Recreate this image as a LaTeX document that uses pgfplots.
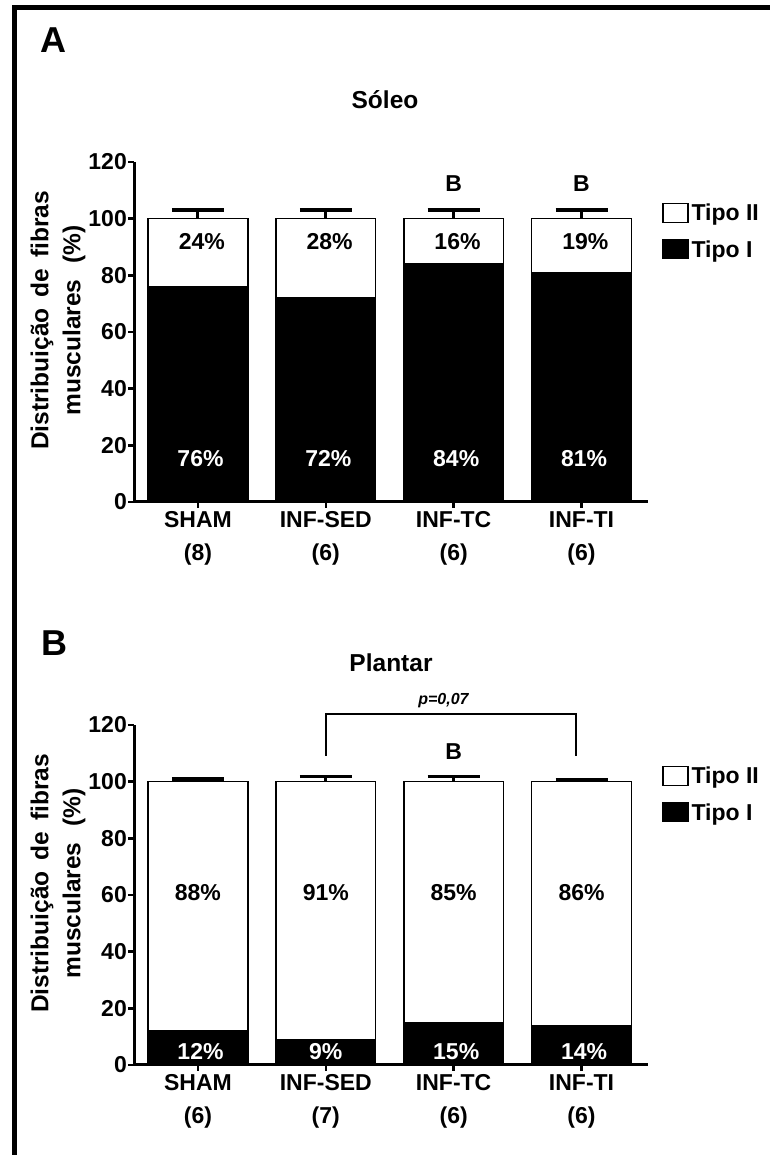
\documentclass[border=0pt]{standalone}
\usepackage{pgfplots}
\pgfplotsset{compat=1.18}
\usepackage{fontspec}
\setmainfont{Liberation Sans}

\newcommand\fs{\bfseries\fontsize{23}{33}\selectfont}
\newcommand\fl{\bfseries\fontsize{24.5}{32}\selectfont}
\newcommand\gap{\hspace{11pt}}

\tikzset{
  tipoI/.style={fill=black, draw=black, line width=1.5pt},
  tipoII/.style={fill=white, draw=black, line width=1.5pt},
  pct/.style={font=\fs, anchor=base},
}

\pgfplotsset{
  fibras/.style={
    scale only axis,
    width=514pt, height=340pt,
    ybar stacked,
    bar width=0.78,
    xmin=-0.5, xmax=3.52,
    ymin=0, ymax=120,
    enlargelimits=false,
    axis lines=left,
    axis line style={-, line width=3pt},
    tick align=outside,
    major tick length=6pt,
    tick style={line width=2.5pt, black},
    xtick={0,1,2,3},
    ytick={0,20,...,120},
    /pgf/number format/assume math mode=true,
    yticklabel style={font=\fs, inner sep=1pt},
    xticklabel style={font=\fs, align=center, inner sep=3pt},
    ylabel={Distribuição\gap de\gap fibras\\musculares\hspace{16pt}(\%)},
    ylabel style={font=\fl, align=center, at={(axis description cs:-0.148,0.534)}, anchor=center},
    reverse legend,
    legend style={at={(1.027,0.885)}, anchor=north west, draw=none, fill=none,
      font=\fs, row sep=12pt, inner sep=0pt, nodes={inner sep=3pt}},
    legend cell align=left,
    legend image code/.code={\draw[#1, line width=1.5pt] (0pt,-9pt) rectangle (25pt,10pt);},
    error bars/error bar style={line width=3pt, black},
    error bars/error mark options={rotate=90, mark size=26pt, line width=3.5pt, black},
    clip=false,
  },
}

\begin{document}
\begin{tikzpicture}
\useasboundingbox (0,0) rectangle (770pt,1155pt);
% frame
\draw[line width=5pt] (14.5pt,0pt) -- (14.5pt,1147pt) -- (770pt,1147pt);

% panel letters and titles
\node[font=\bfseries\fontsize{36}{40}\selectfont] at (53pt,1115pt) {A};
\node[font=\bfseries\fontsize{24.5}{28}\selectfont] at (385pt,1055pt) {Sóleo};
\node[font=\bfseries\fontsize{36}{40}\selectfont] at (54pt,512pt) {B};
\node[font=\bfseries\fontsize{24.5}{28}\selectfont] at (391pt,492pt) {Plantar};

% Soleus
\begin{axis}[fibras, at={(134pt,653pt)}, anchor=south west,
  xticklabels={{SHAM\\(8)},{INF-SED\\(6)},{INF-TC\\(6)},{INF-TI\\(6)}}]
\addplot[tipoI, forget plot] coordinates {(0,76) (1,72) (2,84) (3,81)};
\addplot[tipoII, forget plot, error bars/.cd, y dir=plus, y explicit]
  coordinates {(0,24) +- (0,3) (1,28) +- (0,3) (2,16) +- (0,3) (3,19) +- (0,3)};
\addlegendimage{tipoI}\addlegendentry{Tipo I}
\addlegendimage{tipoII}\addlegendentry{Tipo II}
\coordinate (sII0) at (axis cs:0.03,89);
\coordinate (sII1) at (axis cs:1.03,89);
\coordinate (sII2) at (axis cs:2.03,89);
\coordinate (sII3) at (axis cs:3.03,89);
\coordinate (sI0) at (axis cs:0.02,12.6);
\coordinate (sI1) at (axis cs:1.02,12.6);
\coordinate (sI2) at (axis cs:2.02,12.6);
\coordinate (sI3) at (axis cs:3.02,12.6);
\node[font=\fs] at (axis cs:2,112.3) {B};
\node[font=\fs] at (axis cs:3,112.3) {B};
\end{axis}
\node[pct] at (sII0) {24\%};
\node[pct] at (sII1) {28\%};
\node[pct] at (sII2) {16\%};
\node[pct] at (sII3) {19\%};
\node[pct, text=white] at (sI0) {76\%};
\node[pct, text=white] at (sI1) {72\%};
\node[pct, text=white] at (sI2) {84\%};
\node[pct, text=white] at (sI3) {81\%};

% Plantaris
\begin{axis}[fibras, at={(134pt,90pt)}, anchor=south west,
  xticklabels={{SHAM\\(6)},{INF-SED\\(7)},{INF-TC\\(6)},{INF-TI\\(6)}}]
\addplot[tipoI, forget plot] coordinates {(0,12) (1,9) (2,15) (3,14)};
\addplot[tipoII, forget plot, error bars/.cd, y dir=plus, y explicit]
  coordinates {(0,88) +- (0,1) (1,91) +- (0,1.8) (2,85) +- (0,1.8) (3,86) +- (0,0.8)};
\addlegendimage{tipoI}\addlegendentry{Tipo I}
\addlegendimage{tipoII}\addlegendentry{Tipo II}
\coordinate (pII0) at (axis cs:0,58.2);
\coordinate (pII1) at (axis cs:1,58.2);
\coordinate (pII2) at (axis cs:2,58.2);
\coordinate (pII3) at (axis cs:3,58.2);
\coordinate (pI0) at (axis cs:0.02,2.0);
\coordinate (pI1) at (axis cs:1.0,2.0);
\coordinate (pI2) at (axis cs:2.02,2.0);
\coordinate (pI3) at (axis cs:3.02,2.0);
\node[font=\fs] at (axis cs:2,110.6) {B};
\draw[line width=2pt] (axis cs:1,109.2) -- (axis cs:1,123.8) -- (axis cs:2.96,123.8) -- (axis cs:2.96,109.2);
\node[font=\bfseries\itshape\fontsize{16}{18}\selectfont] at (axis cs:1.92,128.5) {p=0,07};
\end{axis}
\node[pct] at (pII0) {88\%};
\node[pct] at (pII1) {91\%};
\node[pct] at (pII2) {85\%};
\node[pct] at (pII3) {86\%};
\node[pct, text=white] at (pI0) {12\%};
\node[pct, text=white] at (pI1) {9\%};
\node[pct, text=white] at (pI2) {15\%};
\node[pct, text=white] at (pI3) {14\%};
\end{tikzpicture}
\end{document}
